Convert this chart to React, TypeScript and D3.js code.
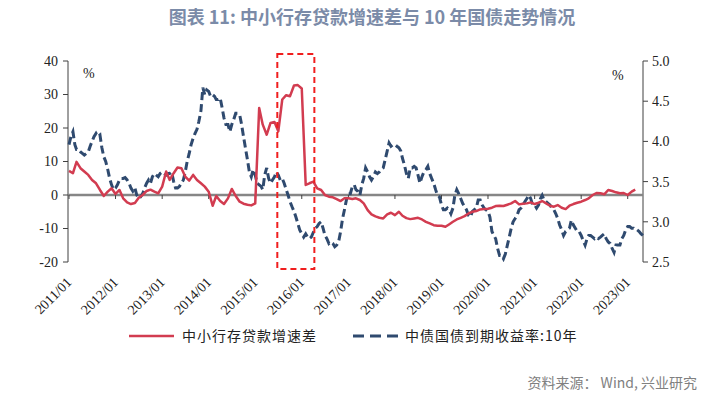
import React from "react";
import * as d3 from "d3";

const titleText = "图表 11: 中小行存贷款增速差与 10 年国债走势情况";
const sourceText = "资料来源： Wind, 兴业研究";
const seriesNames = ["中小行存贷款增速差", "中债国债到期收益率:10年"];
const xTickLabels = [
  "2011/01", "2012/01", "2013/01", "2014/01", "2015/01", "2016/01", "2017/01",
  "2018/01", "2019/01", "2020/01", "2021/01", "2022/01", "2023/01",
];
const leftTicks = [-20, -10, 0, 10, 20, 30, 40];
const rightTicks = [2.5, 3.0, 3.5, 4.0, 4.5, 5.0];
const rightTickLabels = ["2.5", "3.0", "3.5", "4.0", "4.5", "5.0"];

// monthly, starting 2011/01 (left axis, %)
const spreadValues = [
  7.2, 6.5, 9.9, 8.0, 7.0, 6.0, 4.5, 3.5, 1.5, -0.3, 1.0, 2.0,
  0.3, 1.5, -1.0, -2.2, -2.7, -2.4, -0.8, 0.0, 1.2, 1.6, 1.0, 0.5,
  2.5, 7.0, 4.5, 6.5, 8.2, 8.0, 5.5, 4.3, 6.0, 4.5, 3.5, 2.5,
  1.0, -3.2, -0.3, -1.8, -2.7, -1.0, 1.8, -0.3, -2.0, -2.6, -2.9, -3.1,
  -2.5, 26.0, 21.0, 18.0, 21.5, 21.8, 19.0, 28.5, 29.8, 29.5, 32.7, 32.8,
  31.8, 3.0, 3.5, 4.0, 2.0, 1.5, 0.0, -0.5, -0.7, -1.2, -1.8, -1.0,
  -1.0, -1.2, -1.0, -1.5, -2.5, -4.5, -5.8, -6.4, -6.8, -7.0, -5.8, -5.3,
  -6.0, -5.0, -6.2, -6.9, -7.2, -7.0, -6.8, -7.3, -8.0, -8.5, -9.0, -9.2,
  -9.2, -9.5, -8.8, -8.0, -7.3, -6.8, -6.3, -5.5, -5.0, -4.8, -4.3, -4.2,
  -4.1, -3.8, -3.3, -3.2, -3.3, -2.9, -2.5, -1.8, -2.8, -2.6, -2.5, -2.2,
  -2.7, -2.3, -1.8, -2.5, -3.2, -3.5, -3.0, -3.8, -4.2, -3.2, -2.7, -2.3,
  -2.0, -1.5, -1.0, 0.0, 0.6, 0.5, 0.2, 1.5, 1.2, 0.8, 0.5, 0.6,
  0.0, 1.0, 1.6,
];

// semi-monthly (1st and 16th), starting 2011-01-01 (right axis, %)
const yieldValues = [
  3.96, 4.06, 4.12, 3.96, 3.90, 3.90, 3.87, 3.85, 3.83, 3.85, 3.87, 3.94,
  4.00, 4.06, 4.10, 4.06, 4.08, 3.92, 3.81, 3.75, 3.65, 3.54, 3.46, 3.40,
  3.42, 3.46, 3.52, 3.54, 3.54, 3.55, 3.52, 3.48, 3.42, 3.38, 3.42, 3.33,
  3.29, 3.31, 3.35, 3.42, 3.48, 3.52, 3.48, 3.56, 3.60, 3.58, 3.56, 3.60,
  3.62, 3.60, 3.58, 3.60, 3.60, 3.62, 3.50, 3.42, 3.42, 3.44, 3.48, 3.52,
  3.62, 3.75, 3.85, 3.96, 4.04, 4.10, 4.15, 4.25, 4.38, 4.67, 4.58, 4.64,
  4.62, 4.56, 4.58, 4.56, 4.52, 4.52, 4.54, 4.42, 4.29, 4.21, 4.21, 4.12,
  4.21, 4.27, 4.35, 4.35, 4.33, 4.21, 4.06, 3.92, 3.77, 3.62, 3.56, 3.65,
  3.58, 3.48, 3.46, 3.44, 3.40, 3.58, 3.67, 3.54, 3.48, 3.52, 3.56, 3.62,
  3.58, 3.52, 3.54, 3.48, 3.40, 3.33, 3.25, 3.19, 3.13, 3.06, 2.98, 2.90,
  2.85, 2.81, 2.85, 2.81, 2.79, 2.81, 2.87, 2.92, 2.94, 2.98, 3.00, 2.92,
  2.83, 2.79, 2.73, 2.75, 2.73, 2.69, 2.71, 2.75, 2.88, 3.04, 3.15, 3.27,
  3.35, 3.35, 3.44, 3.46, 3.40, 3.38, 3.33, 3.46, 3.54, 3.67, 3.62, 3.56,
  3.52, 3.56, 3.62, 3.60, 3.62, 3.65, 3.67, 3.77, 3.88, 3.98, 3.94, 3.96,
  3.96, 3.94, 3.92, 3.88, 3.79, 3.71, 3.60, 3.54, 3.67, 3.67, 3.69, 3.67,
  3.58, 3.48, 3.56, 3.62, 3.65, 3.69, 3.60, 3.54, 3.48, 3.40, 3.33, 3.31,
  3.21, 3.15, 3.15, 3.17, 3.15, 3.10, 3.17, 3.33, 3.40, 3.35, 3.29, 3.23,
  3.19, 3.15, 3.08, 3.06, 3.13, 3.15, 3.17, 3.27, 3.27, 3.21, 3.17, 3.15,
  3.13, 3.06, 2.88, 2.83, 2.79, 2.67, 2.58, 2.58, 2.54, 2.60, 2.71, 2.81,
  2.92, 3.00, 3.04, 3.08, 3.15, 3.17, 3.21, 3.25, 3.29, 3.33, 3.29, 3.21,
  3.21, 3.17, 3.21, 3.29, 3.33, 3.27, 3.25, 3.23, 3.21, 3.17, 3.15, 3.10,
  3.04, 2.96, 2.90, 2.83, 2.88, 2.90, 2.92, 3.02, 2.96, 2.92, 2.88, 2.88,
  2.83, 2.77, 2.71, 2.79, 2.83, 2.83, 2.81, 2.79, 2.81, 2.79, 2.81, 2.83,
  2.85, 2.79, 2.75, 2.73, 2.67, 2.62, 2.71, 2.71, 2.71, 2.79, 2.83, 2.90,
  2.94, 2.94, 2.92, 2.92, 2.90, 2.90, 2.88, 2.85, 2.83,
];

const W = 713;
const H = 397;
const RED = "#d23c50";
const BLUE = "#2f4a6f";
const AXIS = "#404040";
const SERIF = '"Liberation Serif", "DejaVu Serif", serif';
const CJK = '"Noto Sans CJK SC", "Noto Sans", sans-serif';

export default function App() {
  const x = d3
    .scaleTime()
    .domain([new Date(2011, 0, 1), new Date(2023, 4, 1)])
    .range([69, 643]);
  const yL = d3.scaleLinear().domain([-20, 40]).range([262, 61]);
  const yR = d3.scaleLinear().domain([2.5, 5.0]).range([262, 61]);

  const spreadData = spreadValues.map((v, i) => ({
    d: new Date(2011, i, 1),
    v,
  }));
  const yieldData = yieldValues.map((v, i) => ({
    d: new Date(2011, Math.floor(i / 2), i % 2 === 0 ? 1 : 16),
    v,
  }));

  const redLine = d3
    .line<{ d: Date; v: number }>()
    .x((p) => x(p.d))
    .y((p) => yL(p.v))(spreadData) as string;
  const blueLine = d3
    .line<{ d: Date; v: number }>()
    .x((p) => x(p.d))
    .y((p) => yR(p.v))(yieldData) as string;

  const y0 = yL(0);
  const xl = 68;
  const xr = 643;
  const tickDates = xTickLabels.map((s) => {
    const [yy, mm] = s.split("/").map(Number);
    return new Date(yy, mm - 1, 1);
  });

  const boxX0 = x(new Date(2015, 6, 1)) - 1;
  const boxX1 = x(new Date(2016, 3, 1)) + 1;

  const serifText = { fontFamily: SERIF, fontSize: "14px" } as React.CSSProperties;

  return (
    <svg
      width={W}
      height={H}
      style={{ position: "absolute", left: 0, top: 0, background: "#fff" }}
    >
      <rect x={0} y={0} width={W} height={H} fill="#fff" />
      <text
        x={372}
        y={24}
        textAnchor="middle"
        style={{ fontFamily: CJK, fontWeight: 700, fontSize: "18px" }}
        fill="#7b8ba8"
      >
        {titleText}
      </text>

      {/* left axis */}
      <line x1={xl} x2={xl} y1={yL(40)} y2={yL(-20)} stroke={AXIS} strokeWidth={1} />
      {leftTicks.map((t) => (
        <g key={"l" + t}>
          <line x1={xl - 5} x2={xl} y1={yL(t)} y2={yL(t)} stroke={AXIS} strokeWidth={1} />
          <text x={xl - 10} y={yL(t)} dy="0.35em" textAnchor="end" style={serifText} fill="#222">
            {t}
          </text>
        </g>
      ))}
      <text x={83} y={78} style={serifText} fill="#222">%</text>

      {/* right axis */}
      <line x1={xr} x2={xr} y1={yR(5)} y2={yR(2.5)} stroke={AXIS} strokeWidth={1} />
      {rightTicks.map((t, i) => (
        <g key={"r" + t}>
          <line x1={xr} x2={xr + 5} y1={yR(t)} y2={yR(t)} stroke={AXIS} strokeWidth={1} />
          <text x={xr + 9} y={yR(t)} dy="0.35em" textAnchor="start" style={serifText} fill="#222">
            {rightTickLabels[i]}
          </text>
        </g>
      ))}
      <text x={612} y={80} style={serifText} fill="#222">%</text>

      {/* zero line */}
      <line x1={xl} x2={xr} y1={y0} y2={y0} stroke="#868686" strokeWidth={2.5} />
      {tickDates.map((d, i) => (
        <line key={"xt" + i} x1={x(d)} x2={x(d)} y1={y0} y2={y0 + 4} stroke={AXIS} strokeWidth={1} />
      ))}
      {tickDates.map((d, i) => (
        <text
          key={"xl" + i}
          transform={`translate(${x(d) + 3.5},${283}) rotate(-45)`}
          textAnchor="end"
          style={serifText}
          fill="#222"
        >
          {xTickLabels[i]}
        </text>
      ))}

      {/* series */}
      <path d={blueLine} fill="none" stroke={BLUE} strokeWidth={3} strokeDasharray="8 4" />
      <path d={redLine} fill="none" stroke={RED} strokeWidth={2.5} strokeLinejoin="round" />

      {/* highlight box */}
      <rect
        x={boxX0}
        y={54}
        width={boxX1 - boxX0}
        height={215}
        fill="none"
        stroke="#f01e1e"
        strokeWidth={2}
        strokeDasharray="6 4"
      />

      {/* legend */}
      <line x1={129} x2={174} y1={336} y2={336} stroke={RED} strokeWidth={2.5} />
      <text
        x={182}
        y={336}
        dy="0.35em"
        style={{ fontFamily: CJK, fontSize: "14px", letterSpacing: "1px" }}
        fill="#222"
      >
        {seriesNames[0]}
      </text>
      <line x1={353} x2={398} y1={336} y2={336} stroke={BLUE} strokeWidth={3} strokeDasharray="11 6" />
      <text
        x={405}
        y={336}
        dy="0.35em"
        style={{ fontFamily: CJK, fontSize: "14px", letterSpacing: "1px" }}
        fill="#222"
      >
        {seriesNames[1]}
      </text>

      {/* source */}
      <text x={697} y={388} textAnchor="end" style={{ fontFamily: CJK, fontSize: "14px" }} fill="#808080">
        {sourceText}
      </text>
    </svg>
  );
}
